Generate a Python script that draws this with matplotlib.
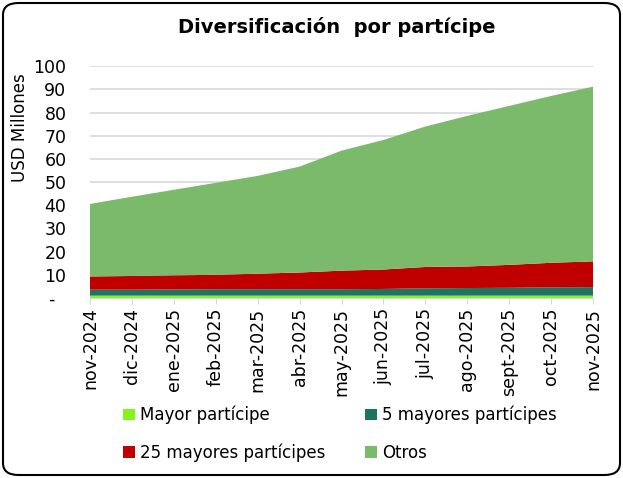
import matplotlib
matplotlib.use("Agg")
import matplotlib.pyplot as plt
from matplotlib.patches import Patch, FancyBboxPatch
import numpy as np

months = ["nov-2024", "dic-2024", "ene-2025", "feb-2025", "mar-2025", "abr-2025",
          "may-2025", "jun-2025", "jul-2025", "ago-2025", "sept-2025", "oct-2025", "nov-2025"]
mayor = [1.0, 1.0, 1.0, 1.0, 1.0, 1.0, 1.0, 1.0, 1.0, 1.0, 1.0, 1.0, 1.0]
cinco = [2.6, 2.6, 2.7, 2.8, 2.8, 2.8, 2.8, 2.9, 3.2, 3.3, 3.4, 3.6, 3.7]
veinticinco = [5.7, 5.9, 6.1, 6.2, 6.7, 7.2, 8.0, 8.4, 9.2, 9.3, 9.9, 10.6, 11.1]
otros = [31.3, 34.2, 36.9, 39.7, 42.2, 45.7, 51.8, 55.9, 60.6, 65.0, 68.6, 72.0, 75.4]
yticks = [0, 10, 20, 30, 40, 50, 60, 70, 80, 90, 100]
ytick_labels = ["-  ", "10", "20", "30", "40", "50", "60", "70", "80", "90", "100"]
series_names = ["Mayor partícipe", "5 mayores partícipes", "25 mayores partícipes", "Otros"]
colors = ["#84F41A", "#1D7560", "#C00000", "#7BBA6B"]

fig = plt.figure(figsize=(6.23, 4.78), dpi=100)
ax = fig.add_axes([90/623, 1-298/478, (593-90)/623, (298-66.3)/478])

x = np.arange(len(months))
ax.stackplot(x, mayor, cinco, veinticinco, otros, colors=colors, linewidth=0, zorder=3)
ax.set_xlim(0, len(months)-1)
ax.set_ylim(0, 100)
ax.set_yticks(yticks)
ax.set_yticklabels(ytick_labels, fontsize=12.5)
ax.set_xticks(x)
ax.set_xticklabels(months, rotation=90, fontsize=12.5)
ax.grid(axis="y", color="#D9D9D9", linewidth=1.2, zorder=0)
for s in ["top", "right", "left"]:
    ax.spines[s].set_visible(False)
ax.spines["bottom"].set_color("#D9D9D9")
ax.tick_params(axis="y", length=0, pad=17)
ax.tick_params(axis="x", length=4, color="#D9D9D9", pad=3)

fig.text(20/623, 1-128/478, "USD Millones", rotation=90, fontsize=12, ha="center", va="center")
fig.text(337/623, 1-27/478, "Diversificación  por partícipe", fontsize=14, fontweight="bold",
         ha="center", va="center")

# matplotlib fills legend column-wise; order so rows read as in the reference
order = [0, 2, 1, 3]
handles = [Patch(facecolor=colors[i], edgecolor="none") for i in order]
labels = [series_names[i] for i in order]
fig.legend(handles, labels, loc="center", bbox_to_anchor=(340/623, 1-434/478), ncol=2,
           frameon=False, fontsize=12, handlelength=0.7, handleheight=0.7, handletextpad=0.3,
           columnspacing=2.4, labelspacing=1.15)

border = FancyBboxPatch((3/623, 3/478), 1-6/623, 1-6/478, boxstyle="round,pad=0,rounding_size=0.025",
                        transform=fig.transFigure, facecolor="none", edgecolor="black", linewidth=1.5)
fig.patches.append(border)

fig.savefig("out.png", dpi=100)
